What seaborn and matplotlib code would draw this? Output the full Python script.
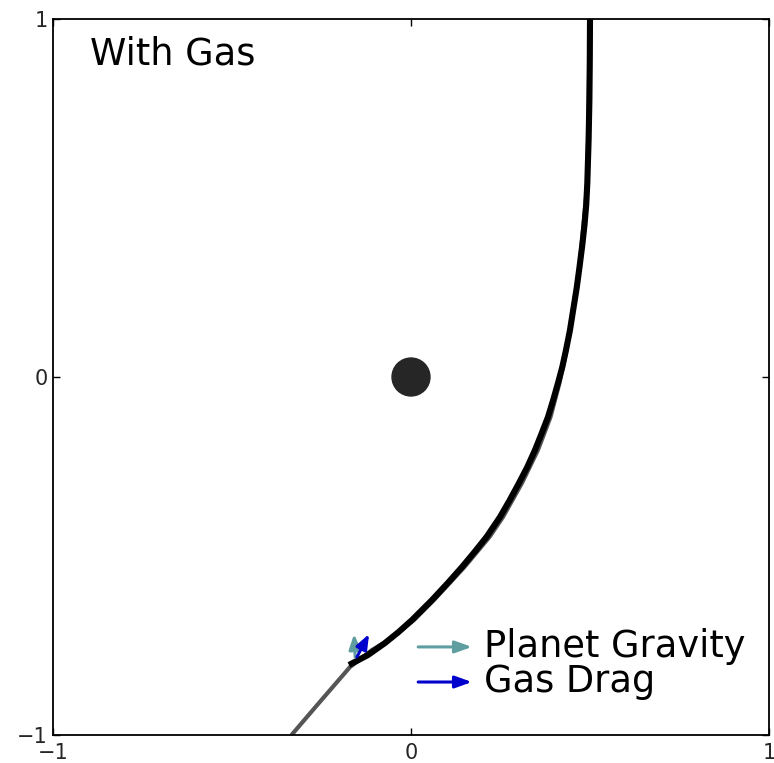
import matplotlib
matplotlib.use("Agg")
import matplotlib.pyplot as plt
from matplotlib.patches import Circle, FancyArrowPatch
import pandas as pd
import seaborn as sns

# Trajectory of the particle drifting past the planet with gas drag (drawn so far)
gas_x = [0.5000, 0.4994, 0.4983, 0.4961, 0.4925, 0.4894, 0.4846, 0.4785, 0.4707,
         0.4628, 0.4539, 0.4441, 0.4330, 0.4226, 0.4106, 0.3972, 0.3827, 0.3654,
         0.3464, 0.3249, 0.3017, 0.2760, 0.2486, 0.2109, 0.1774, 0.1425, 0.1028,
         0.0587, 0.0028, -0.0346, -0.0726, -0.1201, -0.1732]
gas_y = [1.0000, 0.8855, 0.7737, 0.6620, 0.5419, 0.4804, 0.4246, 0.3687, 0.3073,
         0.2486, 0.1927, 0.1313, 0.0754, 0.0279, -0.0168, -0.0642, -0.1117, -0.1564,
         -0.2039, -0.2514, -0.2961, -0.3436, -0.3911, -0.4469, -0.4888, -0.5307, -0.5754,
         -0.6229, -0.6788, -0.7123, -0.7430, -0.7765, -0.8045]

# Reference path without gas
free_x = [0.5000, 0.4925, 0.4707, 0.4344, 0.4148, 0.3897, 0.3547, 0.3101, 0.2570,
          0.2193, 0.1494, 0.0642, 0.0084, -0.0615, -0.1090, -0.1704, -0.2500, -0.3338]
free_y = [1.0000, 0.5419, 0.3073, 0.0754, -0.0168, -0.1117, -0.2039, -0.2961, -0.3911,
          -0.4469, -0.5307, -0.6229, -0.6788, -0.7346, -0.7626, -0.8101, -0.9022, -1.0000]

# Planet
planet_xy = (0.0, 0.0)
planet_radius = 0.053

# Force vectors acting on the particle: (x0, y0, dx, dy)
gravity_vec = (-0.156, -0.782, -0.003, 0.064)
drag_vec = (-0.151, -0.782, 0.034, 0.064)

force_labels = ["Planet Gravity", "Gas Drag"]
force_colors = ["#5F9EA0", "#0000CD"]

ticks = [-1, 0, 1]
title_text = "With Gas"

sns.set_style("ticks")
plt.rcParams.update({
    "font.family": ["DejaVu Sans"],
    "xtick.direction": "in",
    "ytick.direction": "in",
    "xtick.top": True,
    "ytick.right": True,
    "axes.edgecolor": "black",
    "axes.linewidth": 1.3,
})

fig = plt.figure(figsize=(7.74, 7.63), dpi=100)
ax = fig.add_axes([53 / 774, 28 / 763, 716 / 774, 716 / 763])

free_df = pd.DataFrame({"x": free_x, "y": free_y})
gas_df = pd.DataFrame({"x": gas_x, "y": gas_y})

sns.lineplot(data=free_df, x="x", y="y", sort=False, estimator=None,
             color="#555555", lw=3.0, ax=ax, solid_capstyle="butt",
             solid_joinstyle="round")
sns.lineplot(data=gas_df, x="x", y="y", sort=False, estimator=None,
             color="black", lw=4.4, ax=ax, solid_capstyle="butt",
             solid_joinstyle="round")

ax.add_patch(Circle(planet_xy, planet_radius, color="#262626", zorder=4))


def draw_arrow(start, end, color, transform, lw, hl, hw):
    arr = FancyArrowPatch(start, end, transform=transform,
                          arrowstyle=f"-|>,head_length={hl},head_width={hw}",
                          mutation_scale=1, color=color, lw=lw,
                          shrinkA=0, shrinkB=0, zorder=5)
    ax.add_patch(arr)


for vec, col in zip([gravity_vec, drag_vec], force_colors):
    x0, y0, dx, dy = vec
    draw_arrow((x0, y0), (x0 + dx, y0 + dy), col, ax.transData, 2.2, 9, 3.5)

# Key for the force arrows
key_y = [0.123, 0.074]
text_y = [0.109, 0.060]
for lab, col, ay, ty in zip(force_labels, force_colors, key_y, text_y):
    draw_arrow((0.510, ay), (0.585, ay), col, ax.transAxes, 2.2, 10, 3.6)
    ax.text(0.602, ty, lab, transform=ax.transAxes, fontsize=26.5,
            va="baseline", ha="left", color="black")

ax.text(0.052, 0.936, title_text, transform=ax.transAxes, fontsize=26.5,
        va="baseline", ha="left", color="black")

ax.set_xlim(-1, 1)
ax.set_ylim(-1, 1)
ax.set_xticks(ticks)
ax.set_yticks(ticks)
ax.set_xticklabels([f"{t}".replace("-", "\u2212") for t in ticks])
ax.set_yticklabels([f"{t}".replace("-", "\u2212") for t in ticks])
ax.tick_params(axis="both", length=5, width=1, labelsize=15, color="black")
ax.tick_params(axis="x", pad=6)
ax.tick_params(axis="y", pad=4)
ax.set_xlabel("")
ax.set_ylabel("")
for s in ax.spines.values():
    s.set_visible(True)

fig.savefig("out.png", dpi=100, facecolor="white")
